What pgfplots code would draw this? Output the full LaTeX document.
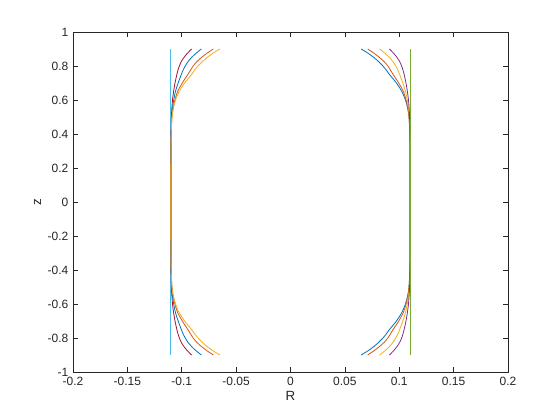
\documentclass[border=0pt]{standalone}
\usepackage{fontspec}
\setmainfont{Liberation Sans}
\usepackage{pgfplots}
\usepackage{pgfplotstable}
\pgfplotsset{compat=1.18}

\definecolor{mblue}{rgb}{0,0.447,0.741}
\definecolor{morange}{rgb}{0.85,0.325,0.098}
\definecolor{myellow}{rgb}{0.929,0.694,0.125}
\definecolor{mpurple}{rgb}{0.494,0.184,0.556}
\definecolor{mgreen}{rgb}{0.466,0.674,0.188}
\definecolor{mcyan}{rgb}{0.301,0.745,0.933}
\definecolor{mred}{rgb}{0.635,0.078,0.184}
\definecolor{axgray}{rgb}{0.15,0.15,0.15}

% left-side profiles, z from -0.9 to 0.9
\pgfplotstableread{
z x
-0.9 -0.0910
-0.875 -0.0948
-0.85 -0.0980
-0.825 -0.1005
-0.8 -0.1022
-0.775 -0.1035
-0.75 -0.1045
-0.7 -0.1062
-0.65 -0.1075
-0.6 -0.1085
-0.55 -0.1091
-0.5 -0.1095
-0.4 -0.1098
-0.2 -0.1100
0 -0.1100
0.2 -0.1100
0.4 -0.1098
0.5 -0.1095
0.55 -0.1091
0.6 -0.1085
0.65 -0.1075
0.7 -0.1062
0.75 -0.1045
0.775 -0.1035
0.8 -0.1022
0.825 -0.1005
0.85 -0.0980
0.875 -0.0948
0.9 -0.0910
}\profA

\pgfplotstableread{
z x
-0.9 -0.0820
-0.875 -0.0868
-0.85 -0.0910
-0.825 -0.0943
-0.8 -0.0968
-0.775 -0.0988
-0.75 -0.1004
-0.7 -0.1033
-0.65 -0.1058
-0.6 -0.1074
-0.55 -0.1086
-0.5 -0.1093
-0.4 -0.1098
-0.2 -0.1100
0 -0.1100
0.2 -0.1100
0.4 -0.1098
0.5 -0.1093
0.55 -0.1086
0.6 -0.1074
0.65 -0.1058
0.7 -0.1033
0.75 -0.1004
0.775 -0.0988
0.8 -0.0968
0.825 -0.0943
0.85 -0.0910
0.875 -0.0868
0.9 -0.0820
}\profB

\pgfplotstableread{
z x
-0.9 -0.0710
-0.875 -0.0768
-0.85 -0.0819
-0.825 -0.0862
-0.8 -0.0895
-0.775 -0.0920
-0.75 -0.0944
-0.7 -0.0995
-0.65 -0.1038
-0.6 -0.1063
-0.55 -0.1079
-0.5 -0.1090
-0.4 -0.1097
-0.2 -0.1100
0 -0.1100
0.2 -0.1100
0.4 -0.1097
0.5 -0.1090
0.55 -0.1079
0.6 -0.1063
0.65 -0.1038
0.7 -0.0995
0.75 -0.0944
0.775 -0.0920
0.8 -0.0895
0.825 -0.0862
0.85 -0.0819
0.875 -0.0768
0.9 -0.0710
}\profC

\pgfplotstableread{
z x
-0.9 -0.0650
-0.875 -0.0713
-0.85 -0.0767
-0.825 -0.0812
-0.8 -0.0850
-0.775 -0.0882
-0.75 -0.0910
-0.7 -0.0974
-0.65 -0.1024
-0.6 -0.1057
-0.55 -0.1078
-0.5 -0.1090
-0.4 -0.1097
-0.2 -0.1100
0 -0.1100
0.2 -0.1100
0.4 -0.1097
0.5 -0.1090
0.55 -0.1078
0.6 -0.1057
0.65 -0.1024
0.7 -0.0974
0.75 -0.0910
0.775 -0.0882
0.8 -0.0850
0.825 -0.0812
0.85 -0.0767
0.875 -0.0713
0.9 -0.0650
}\profD

\begin{document}
\begin{tikzpicture}
\begin{axis}[
    scale only axis,
    width=326.25pt, height=255pt,
    xmin=-0.2, xmax=0.2,
    ymin=-1, ymax=1,
    xtick={-0.2,-0.15,-0.1,-0.05,0,0.05,0.1,0.15,0.2},
    xticklabels={-0.2,-0.15,-0.1,-0.05,0,0.05,0.1,0.15,0.2},
    ytick={-1,-0.8,-0.6,-0.4,-0.2,0,0.2,0.4,0.6,0.8,1},
    yticklabels={-1,-0.8,-0.6,-0.4,-0.2,0,0.2,0.4,0.6,0.8,1},
    scaled ticks=false,
    tick align=inside,
    major tick length=3.5pt,
    axis line style={axgray, line width=0.5pt},
    tick style={axgray, line width=0.5pt},
    ticklabel style={font=\fontsize{9}{10}\selectfont, text=axgray},
    label style={font=\fontsize{10}{12}\selectfont, text=axgray},
    xlabel={R}, ylabel={z},
    xlabel style={yshift=2pt},
    ylabel style={yshift=-2pt},
    every axis plot/.append style={line width=0.6pt, smooth, tension=0.4},
    clip=false,
]
% right side
\addplot[mblue] table[x expr={-\thisrow{x}}, y=z] {\profD};
\addplot[morange] table[x expr={-\thisrow{x}}, y=z] {\profC};
\addplot[myellow] table[x expr={-\thisrow{x}}, y=z] {\profB};
\addplot[mpurple] table[x expr={-\thisrow{x}}, y=z] {\profA};
\addplot[mgreen] coordinates {(0.11,-0.9) (0.11,0.9)};
% left side
\addplot[mcyan] coordinates {(-0.11,-0.9) (-0.11,0.9)};
\addplot[mred] table[x=x, y=z] {\profA};
\addplot[mblue] table[x=x, y=z] {\profB};
\addplot[morange] table[x=x, y=z] {\profC};
\addplot[myellow] table[x=x, y=z] {\profD};
\end{axis}
\path (current axis.south west) +(-54.75pt,-36pt)
      (current axis.north east) +(39pt,24pt);
\end{tikzpicture}
\end{document}
